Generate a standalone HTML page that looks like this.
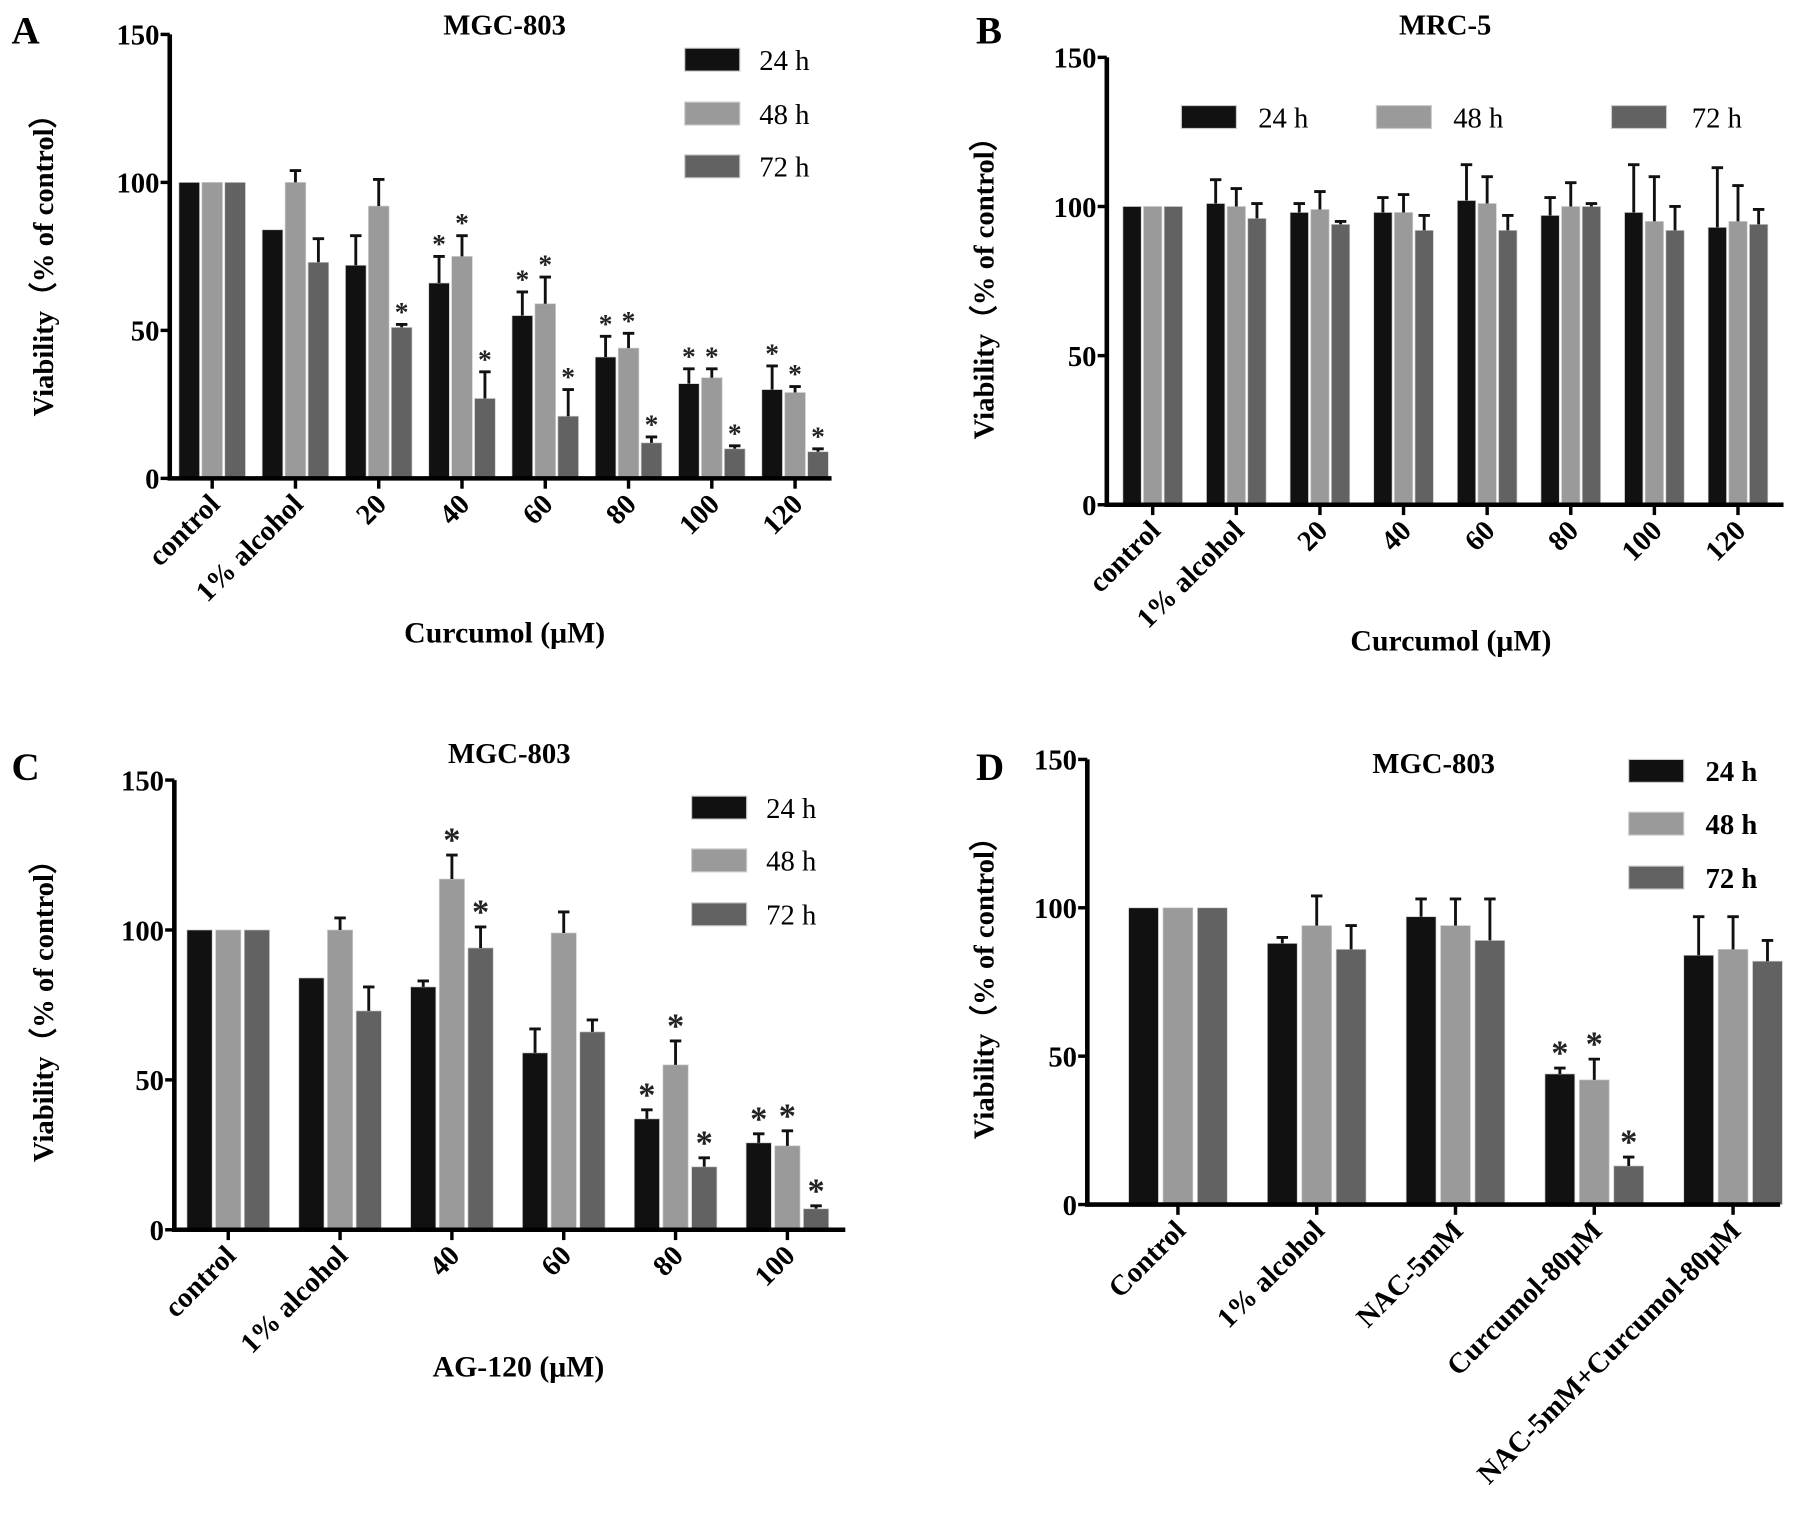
<!DOCTYPE html>
<html><head><meta charset="utf-8"><style>
html,body{margin:0;padding:0;background:#fff;}
svg{display:block;font-family:"Liberation Serif",serif;}
</style></head><body>
<svg id="fig" width="1795" height="1520" viewBox="0 0 1565 1325" preserveAspectRatio="none" xmlns="http://www.w3.org/2000/svg"></svg>
<script>
// Panel A data
const catsA = ["control","1% alcohol","20","40","60","80","100","120"];
const a24 = [100,84,72,66,55,41,32,30];
const a24e = [0,0,10,9,8,7,5,8];
const a48 = [100,100,92,75,59,44,34,29];
const a48e = [0,4,9,7,9,5,3,2];
const a72 = [100,73,51,27,21,12,10,9];
const a72e = [0,8,1,9,9,2,1,1];
const aStar24 = [0,0,0,1,1,1,1,1];
const aStar48 = [0,0,0,1,1,1,1,1];
const aStar72 = [0,0,1,1,1,1,1,1];
// Panel B data
const catsB = ["control","1% alcohol","20","40","60","80","100","120"];
const b24 = [100,101,98,98,102,97,98,93];
const b24e = [0,8,3,5,12,6,16,20];
const b48 = [100,100,99,98,101,100,95,95];
const b48e = [0,6,6,6,9,8,15,12];
const b72 = [100,96,94,92,92,100,92,94];
const b72e = [0,5,1,5,5,1,8,5];
// Panel C data
const catsC = ["control","1% alcohol","40","60","80","100"];
const c24 = [100,84,81,59,37,29];
const c24e = [0,0,2,8,3,3];
const c48 = [100,100,117,99,55,28];
const c48e = [0,4,8,7,8,5];
const c72 = [100,73,94,66,21,7];
const c72e = [0,8,7,4,3,1];
const cStar24 = [0,0,0,0,1,1];
const cStar48 = [0,0,1,0,1,1];
const cStar72 = [0,0,1,0,1,1];
// Panel D data
const catsD = ["Control","1% alcohol","NAC-5mM","Curcumol-80μM","NAC-5mM+Curcumol-80μM"];
const d24 = [100,88,97,44,84];
const d24e = [0,2,6,2,13];
const d48 = [100,94,94,42,86];
const d48e = [0,10,9,7,11];
const d72 = [100,86,89,13,82];
const d72e = [0,8,14,3,7];
const dStar = [0,0,0,1,0];
const yTicks = [0,50,100,150];
const seriesNames = ["24 h","48 h","72 h"];
const colors = ["#111","#9a9a9a","#626262"];

const NS="http://www.w3.org/2000/svg";
const svg=document.getElementById('fig');
function mk(tag,attrs,parent,txt){const e=document.createElementNS(NS,tag);for(const k in attrs)e.setAttribute(k,attrs[k]);if(txt!==undefined)e.textContent=txt;(parent||svg).appendChild(e);return e;}

function panel(p){
  const g=mk('g',{});
  
  
  const y=v=>p.y0-(v/150)*(p.y0-p.y150);
  const cx=i=>p.c0+i*p.step;
  p.series.forEach((s,si)=>{
    s.v.forEach((v,i)=>{
      const x=cx(i)+(si-1)*(p.bw+p.gap)-p.bw/2;
      const r=mk('rect',{x:x,y:y(v),width:p.bw,height:p.y0-y(v),fill:colors[si],stroke:'#ccc','stroke-width':0.6},g);
      
      
      const e=s.e[i];
      if(e>0){
        const xm=x+p.bw/2;
        const eb=mk('path',{d:`M${xm} ${y(v)} V${y(v+e)} M${xm-5} ${y(v+e)} H${xm+5}`,stroke:'#111','stroke-width':2.5,fill:'none'},g);
        
        
      }
      if(s.star && s.star[i]){
        const st=mk('text',{x:x+p.bw/2,y:y(v+e)-3,'text-anchor':'middle','font-size':p.starSize,'font-weight':'bold',fill:'#222'},g,'*');
        
        
      }
    });
  });
  const ax=mk('path',{d:`M${p.ax} ${p.y150} V${p.y0+2} M${p.ax-2} ${p.y0} H${p.xend}`,stroke:'#000','stroke-width':4,fill:'none'},g);
  
  
  yTicks.forEach(t=>{
    mk('line',{x1:p.ax-8,x2:p.ax,y1:y(t),y2:y(t),stroke:'#000','stroke-width':3},g);
    const tl=mk('text',{x:p.ax-9,y:y(t)+9,'text-anchor':'end','font-size':25,'font-weight':'bold'},g,t);
    
    
  });
  p.cats.forEach((c,i)=>{
    mk('line',{x1:cx(i),x2:cx(i),y1:p.y0,y2:p.y0+9,stroke:'#000','stroke-width':3},g);
    const tl=mk('text',{transform:`translate(${cx(i)+8},${p.y0+24}) rotate(-45)`,'text-anchor':'end','font-size':25,'font-weight':'bold'},g,c);
    
    
  });
  const yt=mk('text',{transform:`translate(${p.ylx},${p.yly}) rotate(-90)`,'text-anchor':'middle','font-size':25,'font-weight':'bold'},g,'Viability（% of control）');
  
  
  if(p.xt){
    const xt=mk('text',{x:p.xt[0],y:p.xt[1],'text-anchor':'middle','font-size':26,'font-weight':'bold'},g,p.xt[2]);
    
    
  }
  const ti=mk('text',{x:p.title[0],y:p.title[1],'text-anchor':'middle','font-size':25,'font-weight':'bold'},g,p.title[2]);
  
  
  const le=mk('text',{x:p.letter[0],y:p.letter[1],'font-size':34,'font-weight':'bold'},g,p.id);
  
  
  p.legend.forEach((L,si)=>{
    const lg=mk('g',{},g);
    
    
    mk('rect',{x:L[0],y:L[1],width:48,height:20,fill:colors[si],stroke:'#ccc','stroke-width':1},lg);
    mk('text',{x:L[2],y:L[1]+19,'font-size':25,'font-weight':p.legBold?'bold':'normal'},lg,seriesNames[si]);
  });
}

panel({id:'A',cats:catsA,ax:148,y150:30,y0:417,xend:725,c0:185,step:72.6,bw:18,gap:2,starSize:24,
  series:[{v:a24,e:a24e,star:aStar24},{v:a48,e:a48e,star:aStar48},{v:a72,e:a72e,star:aStar72}],
  ylx:46,yly:225,xt:[440,560,'Curcumol (μM)'],title:[440,30,'MGC-803'],letter:[10,38],
  legend:[[597,42,662],[597,89,662],[597,135,662]]});
panel({id:'B',cats:catsB,ax:965,y150:50,y0:440,xend:1555,c0:1005,step:72.9,bw:16,gap:2,starSize:24,
  series:[{v:b24,e:b24e},{v:b48,e:b48e},{v:b72,e:b72e}],
  ylx:866,yly:245,xt:[1265,567,'Curcumol (μM)'],title:[1260,30,'MRC-5'],letter:[851,38],
  legend:[[1030,92,1097],[1200,92,1267],[1405,92,1475]]});
panel({id:'C',cats:catsC,ax:152,y150:680,y0:1072,xend:737,c0:199,step:97.5,bw:22,gap:3,starSize:30,
  series:[{v:c24,e:c24e,star:cStar24},{v:c48,e:c48e,star:cStar48},{v:c72,e:c72e,star:cStar72}],
  ylx:46,yly:875,xt:[452,1200,'AG-120 (μM)'],title:[444,665,'MGC-803'],letter:[10,680],
  legend:[[603,694,668],[603,740,668],[603,787,668]]});
panel({id:'D',cats:catsD,ax:948,y150:662,y0:1050,xend:1552,c0:1027,step:121,bw:26,gap:4,starSize:30,
  series:[{v:d24,e:d24e,star:dStar},{v:d48,e:d48e,star:dStar},{v:d72,e:d72e,star:dStar}],
  ylx:866,yly:855,title:[1250,674,'MGC-803'],letter:[851,680],legBold:true,
  legend:[[1420,662,1487],[1420,708,1487],[1420,755,1487]]});
</script>
</body></html>
